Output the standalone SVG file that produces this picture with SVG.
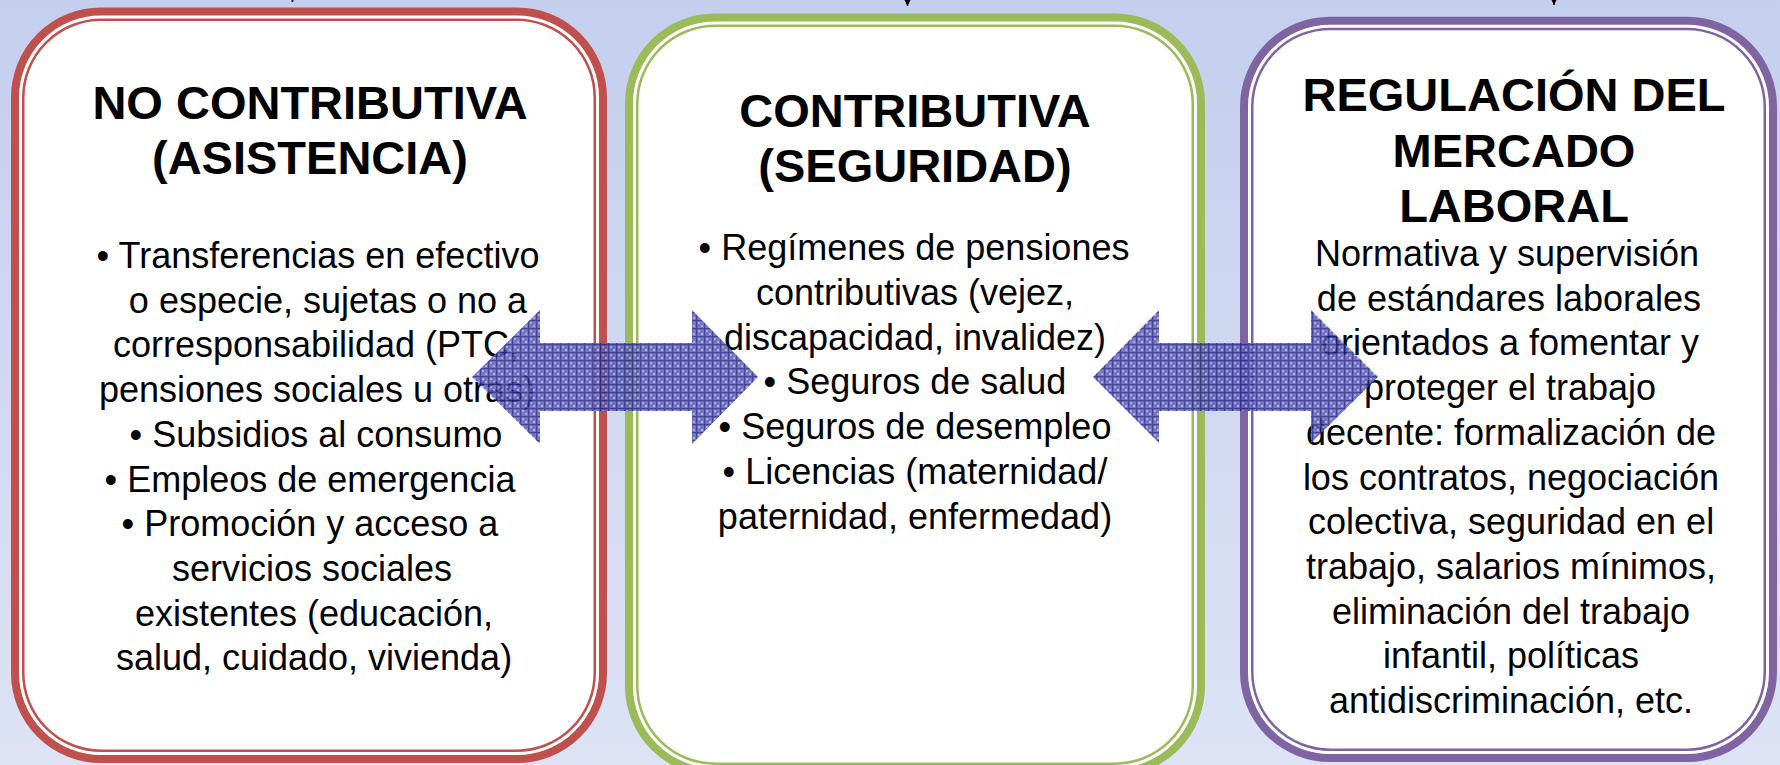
<svg xmlns="http://www.w3.org/2000/svg" width="1780" height="765" viewBox="0 0 1780 765">
<defs>
<linearGradient id="bg" x1="0" y1="0" x2="0" y2="1">
<stop offset="0" stop-color="#C4CFEE"/>
<stop offset="1" stop-color="#DDE3F5"/>
</linearGradient>
<pattern id="hatch" patternUnits="userSpaceOnUse" width="8" height="8">
<rect width="8" height="8" fill="#5F5FB2"/>
<rect x="2" y="2" width="2" height="2" fill="#9A9AD2"/>
<rect x="5" y="5" width="2" height="2" fill="#9A9AD2"/>
<path d="M0 0.6H8M0.6 0V8" stroke="#24248A" stroke-width="1.3"/>
</pattern>
<marker id="ah" markerUnits="userSpaceOnUse" markerWidth="12" markerHeight="12" refX="10" refY="5" orient="auto">
<path d="M0,0 L10,5 L0,10 Z" fill="#000"/>
</marker>
<style>
.outer{fill:#fff;stroke-width:8}
.inner{fill:none;stroke-width:2.5}
.red{stroke:#C0504D}
.green{stroke:#9BBB59}
.purple{stroke:#8064A2}
.title{font-family:"Liberation Sans",Arial,sans-serif;font-weight:bold;font-size:47px;text-anchor:middle;fill:#000}
.body{font-family:"Liberation Sans",Arial,sans-serif;font-size:36px;text-anchor:middle;fill:#000}
.conn{stroke:#000;stroke-width:1.5;fill:none}
.dbl{fill:url(#hatch);opacity:0.85}
</style>
</defs>
<rect width="1780" height="765" fill="url(#bg)"/>

<g id="connectors">
<path class="conn" d="M292.5,-40 V2" marker-end="url(#ah)"/>
<path class="conn" d="M907.5,-40 V6" marker-end="url(#ah)"/>
<path class="conn" d="M1554,-40 V5" marker-end="url(#ah)"/>
</g>

<g id="node-no-contributiva">
<rect class="outer red" x="15" y="11.5" width="588" height="747.5" rx="86"/>
<rect class="inner red" x="23.25" y="19.75" width="571.5" height="731" rx="78"/>
<text class="title" x="310" y="119">NO CONTRIBUTIVA</text>
<text class="title" x="310" y="174">(ASISTENCIA)</text>
<text class="body" x="318" y="268">• Transferencias en efectivo</text>
<text class="body" x="328" y="312.7">o especie, sujetas o no a</text>
<text class="body" x="316" y="357.4">corresponsabilidad (PTC,</text>
<text class="body" x="317" y="402.1">pensiones sociales u otras)</text>
<text class="body" x="316" y="446.8">• Subsidios al consumo</text>
<text class="body" x="310" y="491.5">• Empleos de emergencia</text>
<text class="body" x="310" y="536.2">• Promoción y acceso a</text>
<text class="body" x="312" y="580.9">servicios sociales</text>
<text class="body" x="314" y="625.6">existentes (educación,</text>
<text class="body" x="314" y="670.3">salud, cuidado, vivienda)</text>
</g>

<g id="node-contributiva">
<rect class="outer green" x="629" y="17.5" width="572" height="754.5" rx="86"/>
<rect class="inner green" x="637.25" y="25.75" width="555.5" height="738" rx="78"/>
<text class="title" x="915" y="127">CONTRIBUTIVA</text>
<text class="title" x="915" y="182">(SEGURIDAD)</text>
<text class="body" x="914" y="260">• Regímenes de pensiones</text>
<text class="body" x="915" y="304.8">contributivas (vejez,</text>
<text class="body" x="915" y="349.6">discapacidad, invalidez)</text>
<text class="body" x="915" y="394.4">• Seguros de salud</text>
<text class="body" x="915" y="439.2">• Seguros de desempleo</text>
<text class="body" x="915" y="484">• Licencias (maternidad/</text>
<text class="body" x="915" y="528.8">paternidad, enfermedad)</text>
</g>

<g id="node-regulacion">
<rect class="outer purple" x="1244" y="20.7" width="529" height="737.3" rx="86"/>
<rect class="inner purple" x="1252.25" y="28.95" width="512.5" height="720.8" rx="78"/>
<text class="title" x="1514" y="111">REGULACIÓN DEL</text>
<text class="title" x="1514" y="167">MERCADO</text>
<text class="title" x="1514" y="222">LABORAL</text>
<text class="body" x="1507" y="266">Normativa y supervisión</text>
<text class="body" x="1509" y="310.7">de estándares laborales</text>
<text class="body" x="1510" y="355.4">orientados a fomentar y</text>
<text class="body" x="1510" y="400.1">proteger el trabajo</text>
<text class="body" x="1511" y="444.8">decente: formalización de</text>
<text class="body" x="1511" y="489.5">los contratos, negociación</text>
<text class="body" x="1511" y="534.2">colectiva, seguridad en el</text>
<text class="body" x="1511" y="578.9">trabajo, salarios mínimos,</text>
<text class="body" x="1511" y="623.6">eliminación del trabajo</text>
<text class="body" x="1511" y="668.3">infantil, políticas</text>
<text class="body" x="1511" y="713">antidiscriminación, etc.</text>
</g>

<g id="double-arrows">
<path class="dbl" d="M472,377 L540,310 L540,343 L692,343 L692,310 L758,377 L692,444 L692,411 L540,411 L540,444 Z"/>
<path class="dbl" d="M1093,377 L1159,310 L1159,343 L1311,343 L1311,310 L1378,377 L1311,443 L1311,411 L1159,411 L1159,443 Z"/>
</g>
</svg>
